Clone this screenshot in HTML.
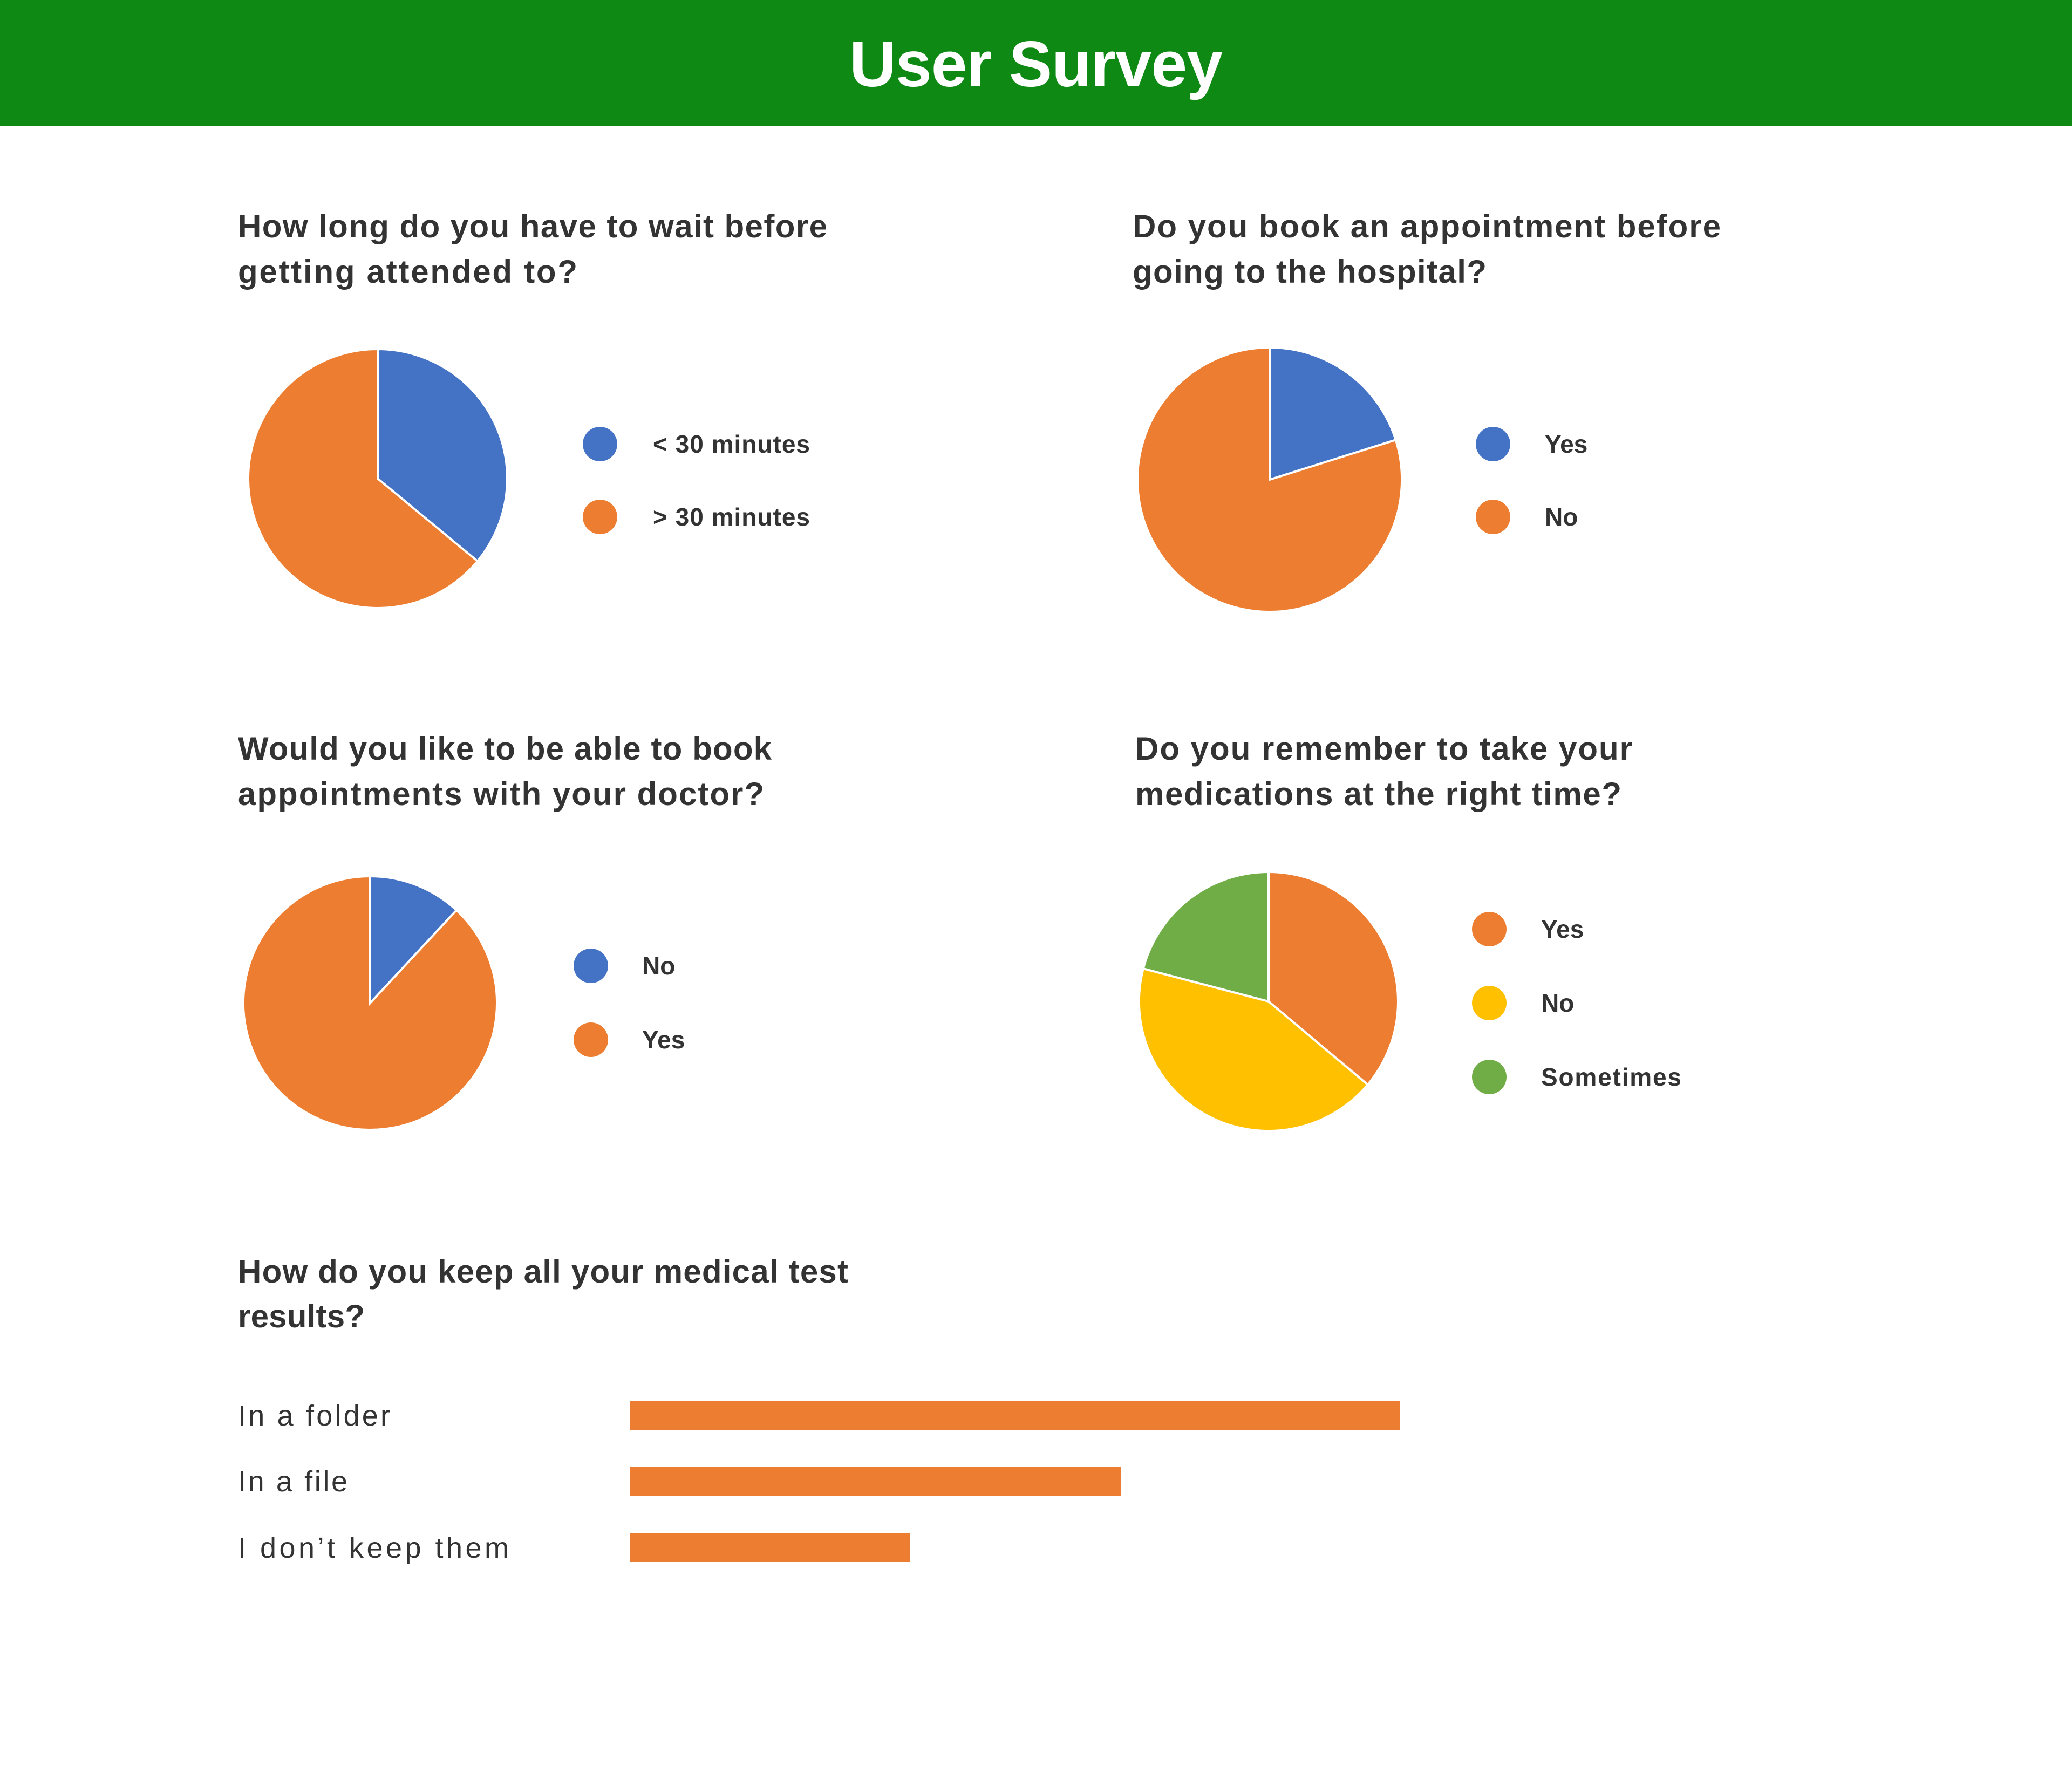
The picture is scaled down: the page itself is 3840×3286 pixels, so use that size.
<!DOCTYPE html>
<html><head><meta charset="utf-8"><style>
html,body{margin:0;padding:0;background:#fff;}
svg{display:block;}
text{font-family:"Liberation Sans",sans-serif;fill:#333;}
</style></head><body>
<svg width="3840" height="3286" viewBox="0 0 3840 3286" xmlns="http://www.w3.org/2000/svg">
<rect x="0" y="0" width="3840" height="3286" fill="#fff"/>
<rect x="0" y="0" width="3840" height="233" fill="#0e8a14"/>
<text x="1920" y="160" text-anchor="middle" font-size="120" font-weight="bold" style="fill:#fff" textLength="692" lengthAdjust="spacing">User Survey</text>

<g font-size="60" font-weight="bold">
<text x="441" y="440" textLength="1092" lengthAdjust="spacing">How long do you have to wait before</text>
<text x="441" y="524" textLength="629" lengthAdjust="spacing">getting attended to?</text>
<text x="2099" y="440" textLength="1090" lengthAdjust="spacing">Do you book an appointment before</text>
<text x="2099" y="524" textLength="656" lengthAdjust="spacing">going to the hospital?</text>
<text x="441" y="1408" textLength="989" lengthAdjust="spacing">Would you like to be able to book</text>
<text x="441" y="1492" textLength="975" lengthAdjust="spacing">appointments with your doctor?</text>
<text x="2104" y="1408" textLength="921" lengthAdjust="spacing">Do you remember to take your</text>
<text x="2104" y="1492" textLength="901" lengthAdjust="spacing">medications at the right time?</text>
<text x="441" y="2377" textLength="1131" lengthAdjust="spacing">How do you keep all your medical test</text>
<text x="441" y="2460" textLength="235" lengthAdjust="spacing">results?</text>
</g>

<g stroke="#fff" stroke-width="4">
<path d="M700,887 L700,647 A240,240 0 0 1 884.9,1040 Z" fill="#4472c4"/>
<path d="M700,887 L884.9,1040 A240,240 0 1 1 700,647 Z" fill="#ed7d31"/>
<path d="M2353,889 L2353,644 A245,245 0 0 1 2586.7,815.3 Z" fill="#4472c4"/>
<path d="M2353,889 L2586.7,815.3 A245,245 0 1 1 2353,644 Z" fill="#ed7d31"/>
<path d="M686,1859 L686,1624 A235,235 0 0 1 846,1686.9 Z" fill="#4472c4"/>
<path d="M686,1859 L846,1686.9 A235,235 0 1 1 686,1624 Z" fill="#ed7d31"/>
<path d="M2351,1856 L2351,1616 A240,240 0 0 1 2534.8,2010.3 Z" fill="#ed7d31"/>
<path d="M2351,1856 L2534.8,2010.3 A240,240 0 0 1 2118.8,1795.1 Z" fill="#ffc000"/>
<path d="M2351,1856 L2118.8,1795.1 A240,240 0 0 1 2351,1616 Z" fill="#70ad47"/>
</g>

<g font-size="46" font-weight="bold">
<circle cx="1112" cy="823" r="32" fill="#4472c4"/><text x="1210" y="839" textLength="291" lengthAdjust="spacing">&lt; 30 minutes</text>
<circle cx="1112" cy="958" r="32" fill="#ed7d31"/><text x="1210" y="974" textLength="291" lengthAdjust="spacing">&gt; 30 minutes</text>
<circle cx="2767" cy="823" r="32" fill="#4472c4"/><text x="2863" y="839">Yes</text>
<circle cx="2767" cy="958" r="32" fill="#ed7d31"/><text x="2863" y="974">No</text>
<circle cx="1095" cy="1790" r="32" fill="#4472c4"/><text x="1190" y="1806">No</text>
<circle cx="1095" cy="1927" r="32" fill="#ed7d31"/><text x="1190" y="1943">Yes</text>
<circle cx="2760" cy="1722" r="32" fill="#ed7d31"/><text x="2856" y="1738">Yes</text>
<circle cx="2760" cy="1859" r="32" fill="#ffc000"/><text x="2856" y="1875">No</text>
<circle cx="2760" cy="1996" r="32" fill="#70ad47"/><text x="2856" y="2012" textLength="260" lengthAdjust="spacing">Sometimes</text>
</g>

<g font-size="54">
<text x="441" y="2642" textLength="282" lengthAdjust="spacing">In a folder</text>
<text x="441" y="2764" textLength="203" lengthAdjust="spacing">In a file</text>
<text x="441" y="2887" textLength="502" lengthAdjust="spacing">I don’t keep them</text>
</g>
<rect x="1168" y="2596" width="1426" height="54" fill="#ed7d31"/>
<rect x="1168" y="2718" width="909" height="54" fill="#ed7d31"/>
<rect x="1168" y="2841" width="519" height="54" fill="#ed7d31"/>
</svg>
</body></html>
